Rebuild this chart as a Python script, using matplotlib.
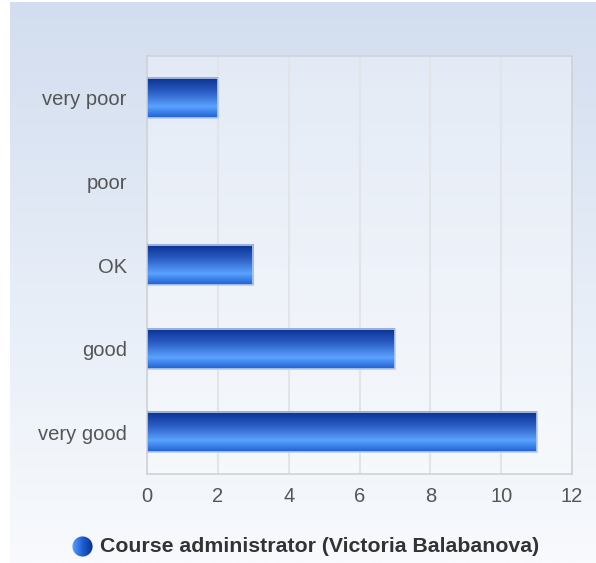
import numpy as np
import matplotlib
matplotlib.use('Agg')
import matplotlib.pyplot as plt
from matplotlib.colors import LinearSegmentedColormap
from matplotlib.patches import Rectangle, Circle

categories = ['very poor', 'poor', 'OK', 'good', 'very good']
counts = [2, 0, 3, 7, 11]
xticks = [0, 2, 4, 6, 8, 10, 12]
series_name = 'Course administrator (Victoria Balabanova)'

plt.rcParams['font.family'] = ['Liberation Sans', 'DejaVu Sans']

fig = plt.figure(figsize=(5.96, 5.63), dpi=100)

# background gradient (light blue top -> white bottom)
bg = fig.add_axes([10/596, 0, 1 - 10/596, 1 - 2/563], zorder=-5)
bg_cmap = LinearSegmentedColormap.from_list('bg', ['#d2ddef', '#e6edf7', '#f8fafd'])
bg.imshow(np.linspace(0, 1, 256).reshape(-1, 1), aspect='auto', cmap=bg_cmap,
          extent=[0, 1, 0, 1], origin='upper')
bg.axis('off')

ax = fig.add_axes([147/596, 1 - 474/563, (572 - 147)/596, (474 - 56)/563])
ax.patch.set_alpha(0.35)
ax.patch.set_facecolor('white')

bar_cmap = LinearSegmentedColormap.from_list(
    'bar', [(0, '#08308e'), (0.35, '#2a5cc4'), (0.72, '#5aa2ff'), (1, '#1e60d2')])
grad = np.linspace(0, 1, 100).reshape(-1, 1)

y = np.arange(len(categories))
h = 0.48
for yi, v in zip(y, counts):
    if v <= 0:
        continue
    ax.imshow(grad, aspect='auto', cmap=bar_cmap, origin='upper',
              extent=[0, v, yi + h/2, yi - h/2], zorder=3)
    ax.add_patch(Rectangle((0, yi - h/2), v, h, fill=False,
                           edgecolor='#b9cbec', lw=1.2, zorder=4))

ax.set_xlim(0, 12)
ax.set_ylim(len(categories) - 0.5, -0.5)
ax.set_xticks(xticks)
ax.set_yticks(y)
ax.set_yticklabels(categories)
ax.tick_params(axis='both', length=0, labelsize=14.5, labelcolor='#555555')
ax.tick_params(axis='x', pad=9)
ax.tick_params(axis='y', pad=14.5)
ax.grid(axis='x', color='#e2e4e8', lw=1.5, zorder=0)
ax.set_axisbelow(True)
for s in ax.spines.values():
    s.set_color('#cfd3d8')
    s.set_linewidth(1.2)

# legend
fig.text(100/596, 1 - 547/563, series_name, fontsize=15.3, fontweight='bold',
         color='#333333', va='center', ha='left')
lg = fig.add_axes([72/596, 1 - 557/563, 21/596, 21/563])
lg.imshow(np.linspace(0, 1, 100).reshape(1, -1), aspect='auto',
          cmap=LinearSegmentedColormap.from_list('lg', ['#5aa2ff', '#1e5fd0', '#0a2f8f']),
          extent=[0, 1, 0, 1])
circ = Circle((0.5, 0.5), 0.48, transform=lg.transData)
lg.images[0].set_clip_path(circ)
lg.set_xlim(0, 1)
lg.set_ylim(0, 1)
lg.axis('off')

fig.savefig('out.png', dpi=100)
